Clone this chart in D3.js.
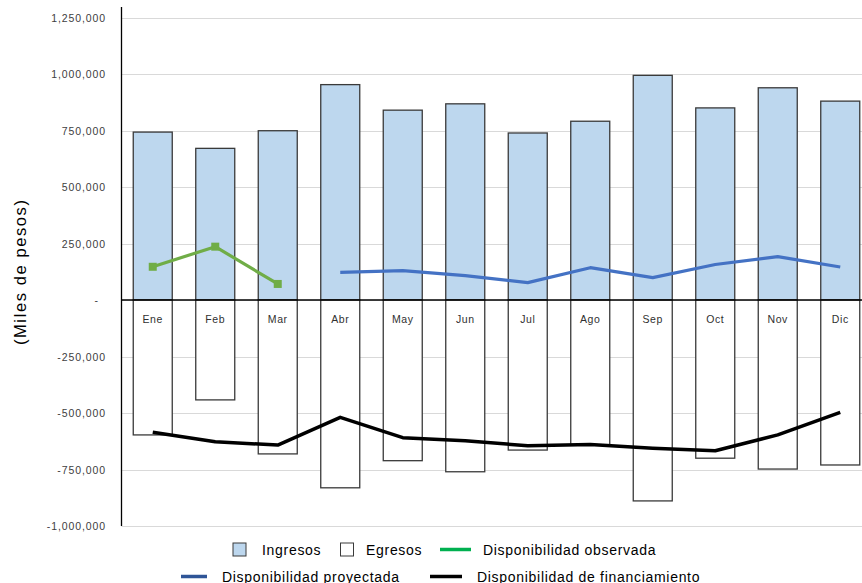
<!DOCTYPE html>
<html>
<head>
<meta charset="utf-8">
<script src="https://cdn.jsdelivr.net/npm/d3@7"></script>
<style>
  html, body { margin: 0; padding: 0; background: #fff; }
  svg { display: block; font-family: "Liberation Sans", Arial, sans-serif; }
</style>
</head>
<body>
<svg id="chart" width="862" height="583"></svg>
<script>
// Monthly cash flow (thousands of pesos)
const months = ["Ene", "Feb", "Mar", "Abr", "May", "Jun", "Jul", "Ago", "Sep", "Oct", "Nov", "Dic"];
const ingresos = [743000, 671000, 749000, 953000, 840000, 868000, 739000, 791000, 994000, 850000, 939000, 880000];
const egresos = [-597000, -442000, -681000, -831000, -711000, -760000, -664000, -640000, -889000, -700000, -748000, -730000];
const dispObservada = [147000, 236000, 71000, null, null, null, null, null, null, null, null, null];
const dispProyectada = [null, null, null, 122000, 130000, 108000, 77000, 143000, 99000, 157000, 192000, 146000];
const dispFinanciamiento = [-585000, -627000, -642000, -519000, -609000, -623000, -645000, -639000, -656000, -667000, -597000, -497000];
const yTicks = [-1000000, -750000, -500000, -250000, 0, 250000, 500000, 750000, 1000000, 1250000];
const yTitle = "(Miles de pesos)";

const svg = d3.select("#chart");

const x = d3.scaleBand().domain(months).range([121.5, 871.5]).paddingInner(0.376).paddingOuter(0.188);
const y = d3.scaleLinear().domain([-1000000, 1250000]).range([526, 17.5]);
const xLeft = 121.5, xRight = 862;

// gridlines
svg.append("g").selectAll("line").data(yTicks).join("line")
  .attr("x1", xLeft).attr("x2", xRight)
  .attr("y1", d => Math.round(y(d)) + 0.5).attr("y2", d => Math.round(y(d)) + 0.5)
  .attr("stroke", "#d9d9d9").attr("stroke-width", 1.2);

// y axis labels (plain hyphen for negatives, dash for zero)
const fmt = d3.format(",");
svg.append("g").selectAll("text").data(yTicks).join("text")
  .attr("x", d => d === 0 ? 99 : 106)
  .attr("y", d => y(d) + 4)
  .attr("text-anchor", "end")
  .attr("font-size", 10.5)
  .attr("letter-spacing", 0.9)
  .attr("fill", "#404040")
  .text(d => d === 0 ? "-" : fmt(d).replace("\u2212", "-"));

// Ingresos bars
svg.append("g").selectAll("rect").data(ingresos).join("rect")
  .attr("x", (d, i) => x(months[i]))
  .attr("width", x.bandwidth())
  .attr("y", d => y(d))
  .attr("height", d => y(0) - y(d))
  .attr("fill", "#bdd7ee")
  .attr("stroke", "#3a3a3a").attr("stroke-width", 1.3);

// Egresos bars
svg.append("g").selectAll("rect").data(egresos).join("rect")
  .attr("x", (d, i) => x(months[i]))
  .attr("width", x.bandwidth())
  .attr("y", y(0))
  .attr("height", d => y(d) - y(0))
  .attr("fill", "#ffffff")
  .attr("stroke", "#3a3a3a").attr("stroke-width", 1.3);

// zero line and vertical axis
svg.append("line").attr("x1", xLeft).attr("x2", xRight)
  .attr("y1", y(0)).attr("y2", y(0)).attr("stroke", "#000").attr("stroke-width", 1.3);
svg.append("line").attr("x1", xLeft).attr("x2", xLeft)
  .attr("y1", 7).attr("y2", y(-1000000)).attr("stroke", "#000").attr("stroke-width", 1.3);

// month labels
svg.append("g").selectAll("text").data(months).join("text")
  .attr("x", d => x(d) + x.bandwidth() / 2)
  .attr("y", 323)
  .attr("text-anchor", "middle")
  .attr("font-size", 10.5)
  .attr("letter-spacing", 0.6)
  .attr("fill", "#303030")
  .text(d => d);

// lines
const line = d3.line()
  .defined(d => d != null)
  .x((d, i) => x(months[i]) + x.bandwidth() / 2)
  .y(d => y(d));

svg.append("path").datum(dispFinanciamiento).attr("d", line)
  .attr("fill", "none").attr("stroke", "#000").attr("stroke-width", 3.5).attr("stroke-linejoin", "round");
svg.append("path").datum(dispProyectada).attr("d", line)
  .attr("fill", "none").attr("stroke", "#4472c4").attr("stroke-width", 3.2).attr("stroke-linejoin", "round");
svg.append("path").datum(dispObservada).attr("d", line)
  .attr("fill", "none").attr("stroke", "#70ad47").attr("stroke-width", 3.2).attr("stroke-linejoin", "round");
svg.append("g").selectAll("rect")
  .data(dispObservada.map((v, i) => ({ v, i })).filter(d => d.v != null))
  .join("rect")
  .attr("x", d => x(months[d.i]) + x.bandwidth() / 2 - 4)
  .attr("y", d => y(d.v) - 4)
  .attr("width", 8).attr("height", 8)
  .attr("fill", "#70ad47");

// y axis title
svg.append("text")
  .attr("transform", `translate(26, ${(y(1250000) + y(-1000000)) / 2}) rotate(-90)`)
  .attr("text-anchor", "middle")
  .attr("font-size", 16.5)
  .attr("letter-spacing", 1.6)
  .attr("fill", "#000")
  .text(yTitle);

// legend
const legend = svg.append("g").attr("font-size", 14).attr("letter-spacing", 0.7).attr("fill", "#000");
legend.append("rect").attr("x", 233).attr("y", 543).attr("width", 13).attr("height", 13)
  .attr("fill", "#bdd7ee").attr("stroke", "#3a3a3a").attr("stroke-width", 1);
legend.append("text").attr("x", 262).attr("y", 554.5).text("Ingresos");
legend.append("rect").attr("x", 340.5).attr("y", 543).attr("width", 13).attr("height", 13)
  .attr("fill", "#fff").attr("stroke", "#3a3a3a").attr("stroke-width", 1);
legend.append("text").attr("x", 366).attr("y", 554.5).text("Egresos");
legend.append("line").attr("x1", 440).attr("x2", 471).attr("y1", 549.5).attr("y2", 549.5)
  .attr("stroke", "#00b050").attr("stroke-width", 3.5);
legend.append("text").attr("x", 483).attr("y", 554.5).text("Disponibilidad observada");
legend.append("line").attr("x1", 181).attr("x2", 207).attr("y1", 576.5).attr("y2", 576.5)
  .attr("stroke", "#2f5597").attr("stroke-width", 3.5);
legend.append("text").attr("x", 222).attr("y", 581.5).text("Disponibilidad proyectada");
legend.append("line").attr("x1", 430).attr("x2", 462).attr("y1", 576.5).attr("y2", 576.5)
  .attr("stroke", "#000").attr("stroke-width", 3.5);
legend.append("text").attr("x", 477).attr("y", 581.5).text("Disponibilidad de financiamiento");
</script>
</body>
</html>
